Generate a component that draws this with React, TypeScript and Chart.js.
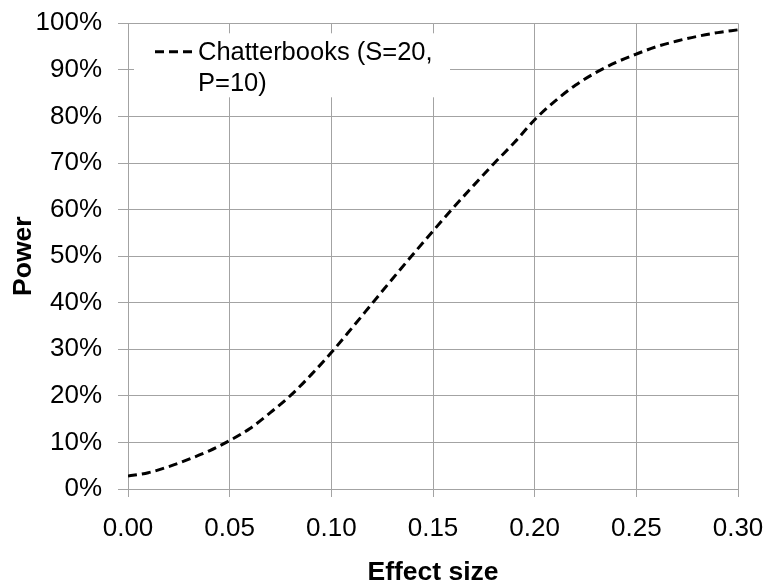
import { useEffect, useRef } from "react";
import { Chart, registerables } from "chart.js";

Chart.register(...registerables);

const effectSizes = [
  0.0, 0.01, 0.02, 0.03, 0.04, 0.05, 0.06, 0.07, 0.08, 0.09, 0.1,
  0.11, 0.12, 0.13, 0.14, 0.15, 0.16, 0.17, 0.18, 0.19, 0.2,
  0.21, 0.22, 0.23, 0.24, 0.25, 0.26, 0.27, 0.28, 0.29, 0.3,
];
const powerValues = [
  2.8, 3.5, 4.8, 6.4, 8.2, 10.4, 13.0, 16.4, 20.1, 24.5, 29.3,
  34.5, 39.8, 45.1, 50.3, 55.4, 60.4, 65.2, 69.9, 74.4, 79.3,
  83.3, 86.7, 89.4, 91.6, 93.4, 95.0, 96.2, 97.2, 98.0, 98.6,
];
const seriesLabel = "Chatterbooks (S=20, P=10)";
const xTickValues = [0, 0.05, 0.1, 0.15, 0.2, 0.25, 0.3];
const yTickValues = [0, 10, 20, 30, 40, 50, 60, 70, 80, 90, 100];
const xTitle = "Effect size";
const yTitle = "Power";

const FONT = "'Liberation Sans', Arial, Helvetica, sans-serif";
const GRID = "#a3a3a3";
const DASH = [9, 5];

const legendPlugin = {
  id: "insetLegend",
  beforeDatasetsDraw(chart: any) {
    const { ctx, chartArea } = chart;
    const ds = chart.data.datasets[0];
    const bx = chartArea.left + 6;
    const by = chartArea.top + 10;
    const bw = 316;
    const bh = 64;
    ctx.save();
    ctx.fillStyle = "#ffffff";
    ctx.fillRect(bx, by, bw, bh);
    ctx.strokeStyle = ds.borderColor;
    ctx.lineWidth = ds.borderWidth;
    ctx.setLineDash(ds.borderDash);
    ctx.beginPath();
    ctx.moveTo(bx + 21, by + 18.5);
    ctx.lineTo(bx + 58, by + 18.5);
    ctx.stroke();
    ctx.setLineDash([]);
    ctx.font = `25.5px ${FONT}`;
    ctx.fillStyle = "#000000";
    ctx.textBaseline = "alphabetic";
    ctx.textAlign = "left";
    const maxW = 250;
    const words = String(ds.label).split(" ");
    const lines: string[] = [];
    let cur = "";
    for (const w of words) {
      const test = cur ? cur + " " + w : w;
      if (ctx.measureText(test).width > maxW && cur) {
        lines.push(cur);
        cur = w;
      } else {
        cur = test;
      }
    }
    if (cur) lines.push(cur);
    lines.forEach((ln, i) => {
      ctx.fillText(ln, bx + 64, by + 27 + i * 30.5);
    });
    ctx.restore();
  },
};

export default function App() {
  const canvasRef = useRef<HTMLCanvasElement | null>(null);

  useEffect(() => {
    const canvas = canvasRef.current;
    if (!canvas) return;
    const chart = new Chart(canvas, {
      type: "line",
      data: {
        datasets: [
          {
            label: seriesLabel,
            data: effectSizes.map((x, i) => ({ x, y: powerValues[i] })),
            borderColor: "#000000",
            backgroundColor: "#000000",
            borderWidth: 3,
            borderDash: DASH,
            pointRadius: 0,
            cubicInterpolationMode: "monotone",
            fill: false,
          },
        ],
      },
      options: {
        animation: false,
        responsive: false,
        devicePixelRatio: 1,
        layout: { padding: { left: 0, top: 23.3, right: 29, bottom: 0 } },
        plugins: {
          legend: { display: false },
          tooltip: { enabled: false },
        },
        scales: {
          x: {
            type: "linear",
            min: 0,
            max: 0.3,
            afterBuildTicks: (s: any) => {
              s.ticks = xTickValues.map((v) => ({ value: v }));
            },
            afterFit: (s: any) => {
              s.height = 95;
              s.paddingLeft = 0;
              s.paddingRight = 0;
              s.paddingTop = 0;
              s.paddingBottom = 0;
            },
            ticks: {
              callback: (v: any) => Number(v).toFixed(2),
              color: "#000000",
              font: { family: FONT, size: 26 },
              padding: 16.5,
              maxRotation: 0,
              autoSkip: false,
            },
            grid: { color: GRID, lineWidth: 1, tickLength: 8 },
            border: { color: GRID, width: 1 },
            title: {
              display: true,
              text: xTitle,
              color: "#000000",
              font: { family: FONT, size: 26.5, weight: "bold", lineHeight: 0.87 },
              padding: { top: 0, bottom: 0 },
            },
          },
          y: {
            min: 0,
            max: 100,
            afterBuildTicks: (s: any) => {
              s.ticks = yTickValues.map((v) => ({ value: v }));
            },
            afterFit: (s: any) => {
              s.width = 128;
              s.paddingLeft = 0;
              s.paddingRight = 0;
              s.paddingTop = 0;
              s.paddingBottom = 0;
            },
            ticks: {
              callback: (v: any) => `${v}%`,
              color: "#000000",
              font: { family: FONT, size: 26 },
              padding: 16,
              autoSkip: false,
            },
            grid: { color: GRID, lineWidth: 1, tickLength: 10 },
            border: { color: GRID, width: 1 },
            title: {
              display: true,
              text: yTitle,
              color: "#000000",
              font: { family: FONT, size: 26.5, weight: "bold" },
              padding: { top: 7.6, bottom: 0 },
            },
          },
        },
      },
      plugins: [legendPlugin],
    } as any);
    return () => chart.destroy();
  }, []);

  return (
    <div style={{ position: "absolute", left: 0, top: 0, width: 767, height: 584, background: "#ffffff" }}>
      <canvas ref={canvasRef} width={767} height={584} style={{ display: "block" }} />
    </div>
  );
}
